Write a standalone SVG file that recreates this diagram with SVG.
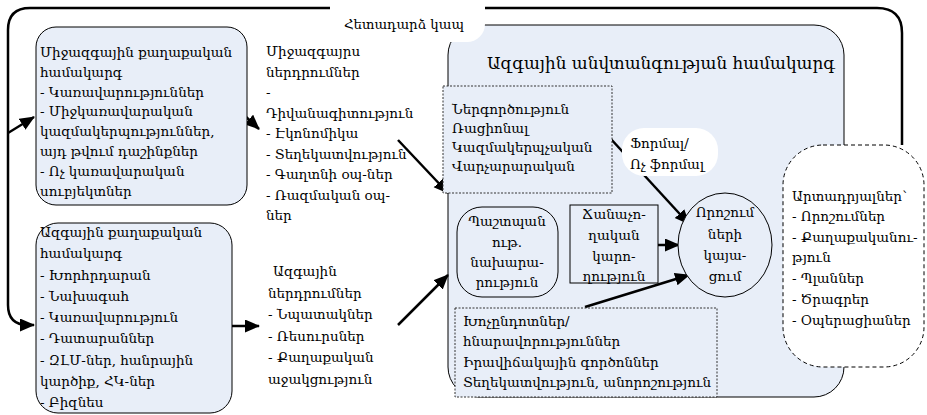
<svg xmlns="http://www.w3.org/2000/svg" width="927" height="415" viewBox="0 0 927 415">
<defs>
<style>
text{font-family:"DejaVu Serif","Liberation Serif",serif;font-size:13.5px;fill:#000}
.box{fill:#e8eef8;stroke:#000;stroke-width:1}
.dot{fill:#e8eef8;stroke:#333;stroke-width:1;stroke-dasharray:2 1.5}
.conn{fill:none;stroke:#000;stroke-width:2.5}
.c{text-anchor:middle}
.title{font-size:17px}
</style>
<marker id="ah" markerUnits="userSpaceOnUse" markerWidth="16" markerHeight="14" refX="14" refY="6.5" orient="auto">
<path d="M0,0 L15,6.5 L0,13 z" fill="#000"/>
</marker>
</defs>
<rect width="927" height="415" fill="#fff"/>

<g id="security-system">
<rect class="box" x="448" y="25" width="396" height="372" rx="30"/>
<text class="title" x="487" y="69" textLength="348" lengthAdjust="spacingAndGlyphs">Ազգային անվտանգության համակարգ</text>
</g>

<g id="output">
<rect x="783" y="145" width="141" height="222" rx="40" fill="#fff" stroke="#000" stroke-width="1" stroke-dasharray="4 3"/>
<text x="792" y="201">Արտադրյալներ՝</text>
<text x="792" y="221">- Որոշումներ</text>
<text x="792" y="242">- Քաղաքականու-</text>
<text x="792" y="262">թյուն</text>
<text x="792" y="283">- Պլաններ</text>
<text x="792" y="304">- Ծրագրեր</text>
<text x="792" y="325">- Օպերացիաներ</text>
</g>

<g id="connectors">
<path class="conn" d="M902,145 L902,33 Q902,8 877,8 L30,8 Q8,8 8,30 L8,305 Q8,325 28,325 L34,325" marker-end="url(#ah)"/>
<path class="conn" d="M8,133 L34,117" marker-end="url(#ah)"/>
<path class="conn" d="M245,116 L259,129" marker-end="url(#ah)"/>
<path class="conn" d="M232,326 L259,326" marker-end="url(#ah)"/>
<path class="conn" d="M398,140 L448,193" marker-end="url(#ah)"/>
<path class="conn" d="M398,325 L448,275" marker-end="url(#ah)"/>
<path class="conn" d="M610,138 L689,224" marker-end="url(#ah)"/>
<path class="conn" d="M658,245 L679,245" marker-end="url(#ah)"/>
<path class="conn" d="M585,307 L689,275" marker-end="url(#ah)"/>
</g>

<g id="feedback-label">
<rect x="330" y="-20" width="155" height="62" rx="18" fill="#fff"/>
<text x="344" y="29" textLength="120" lengthAdjust="spacingAndGlyphs">Հետադարձ կապ</text>
</g>

<g id="international-system">
<rect class="box" x="36" y="27" width="211" height="178" rx="20"/>
<text x="40" y="57">Միջազգային քաղաքական</text>
<text x="40" y="76.8">համակարգ</text>
<text x="40" y="96.6">- Կառավարություններ</text>
<text x="40" y="116.4">- Միջկառավարական</text>
<text x="40" y="136.2">կազմակերպություններ,</text>
<text x="40" y="156">այդ թվում դաշինքներ</text>
<text x="40" y="175.8">- Ոչ կառավարական</text>
<text x="40" y="195.6">սուբյեկտներ</text>
</g>

<g id="international-inputs">
<text x="266" y="56">Միջազգայրս</text>
<text x="266" y="76.5">ներդրումներ</text>
<text x="266" y="97">-</text>
<text x="266" y="117.5">Դիվանագիտություն</text>
<text x="266" y="138">- Էկոնոմիկա</text>
<text x="266" y="158.5">- Տեղեկատվություն</text>
<text x="266" y="179">- Գաղտնի օպ-ներ</text>
<text x="266" y="199.5">- Ռազմական օպ-</text>
<text x="266" y="220">ներ</text>
</g>

<g id="national-system">
<rect class="box" x="36" y="223" width="196" height="190" rx="22"/>
<text x="40" y="237">Ազգային քաղաքական</text>
<text x="40" y="258.2">համակարգ</text>
<text x="40" y="279.5">- Խորհրդարան</text>
<text x="40" y="300.7">- Նախագահ</text>
<text x="40" y="322">- Կառավարություն</text>
<text x="40" y="343.2">- Դատարաններ</text>
<text x="40" y="364.5">- ԶԼՄ-ներ, հանրային</text>
<text x="40" y="385.7">կարծիք, ՀԿ-ներ</text>
<text x="40" y="407">- Բիզնես</text>
</g>

<g id="national-inputs">
<text x="273" y="276">Ազգային</text>
<text x="268" y="297.5">ներդրումներ</text>
<text x="268" y="319">- Նպատակներ</text>
<text x="268" y="340.5">- Ռեսուրսներ</text>
<text x="268" y="362">- Քաղաքական</text>
<text x="268" y="383.5">աջակցություն</text>
</g>

<g id="influence">
<rect class="dot" x="443" y="86" width="169" height="107"/>
<text x="452" y="114">Ներգործություն</text>
<text x="452" y="133">Ռացիոնալ</text>
<text x="452" y="152">Կազմակերպչական</text>
<text x="452" y="171">Վարչարարական</text>
</g>

<g id="formal-label">
<rect x="622" y="128" width="96" height="48" rx="22" fill="#fff"/>
<text x="630" y="148">Ֆորմալ/</text>
<text x="630" y="169">Ոչ ֆորմալ</text>
</g>

<g id="defense-ministry">
<rect x="457" y="207" width="101" height="90" rx="25" fill="#e8eef8" stroke="#000" stroke-width="1"/>
<text class="c" x="507" y="226">Պաշտպան</text>
<text class="c" x="507" y="246.5">ութ.</text>
<text class="c" x="507" y="267">նախարա-</text>
<text class="c" x="507" y="287">րություն</text>
</g>

<g id="cognitive-ability">
<rect x="570" y="205" width="88" height="78" fill="#e8eef8" stroke="#000" stroke-width="1"/>
<text class="c" x="614" y="219">Ճանաչո-</text>
<text class="c" x="614" y="240">ղական</text>
<text class="c" x="614" y="261">կարո-</text>
<text class="c" x="614" y="281">ղություն</text>
</g>

<g id="decision-making">
<ellipse cx="725" cy="245" rx="47" ry="52" fill="#e8eef8" stroke="#000" stroke-width="1"/>
<text class="c" x="725" y="217">Որոշում</text>
<text class="c" x="725" y="239">ների</text>
<text class="c" x="725" y="260">կայա-</text>
<text class="c" x="725" y="281">ցում</text>
</g>

<g id="constraints">
<rect class="dot" x="455" y="308" width="262" height="89"/>
<text x="463" y="326">Խոչընդոտներ/</text>
<text x="463" y="346">հնարավորություններ</text>
<text x="463" y="366.5">Իրավիճակային գործոններ</text>
<text x="463" y="387">Տեղեկատվություն, անորոշություն</text>
</g>
</svg>
